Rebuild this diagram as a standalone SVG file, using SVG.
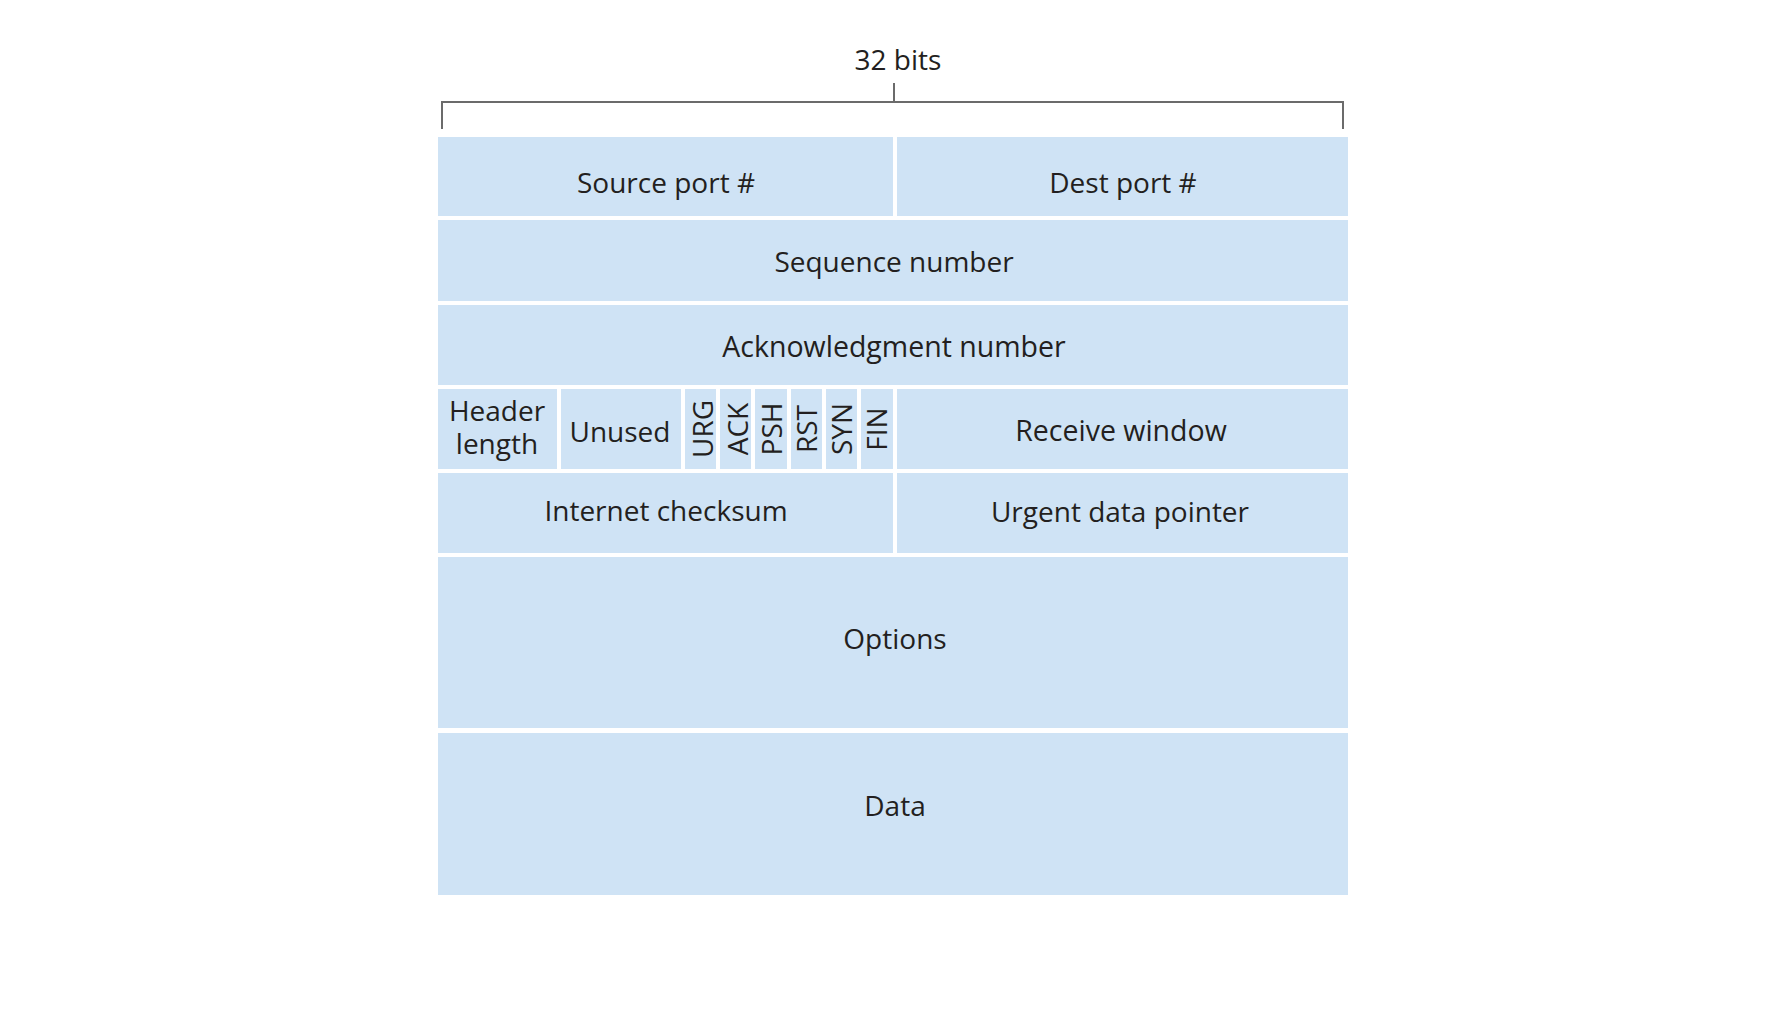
<svg xmlns="http://www.w3.org/2000/svg" width="1788" height="1022" viewBox="0 0 1788 1022">
<style>
.cell{fill:#cfe3f5}
.t{font-family:"Open Sans","Noto Sans","DejaVu Sans",sans-serif;font-size:28px;fill:#231f20;text-anchor:middle}
.br{fill:none;stroke:#6b6b6b;stroke-width:2}
</style>
<rect width="1788" height="1022" fill="#ffffff"/>
<g id="connectors">
<path class="br" d="M442,129 V102 H1343 V129"/>
<path class="br" d="M894,102 V83"/>
</g>
<g id="label-32bits"><text class="t" x="898" y="70">32 bits</text></g>
<g id="source-port"><rect class="cell" x="438" y="137" width="455" height="79"/><text class="t" x="666" y="193">Source port #</text></g>
<g id="dest-port"><rect class="cell" x="897" y="137" width="451" height="79"/><text class="t" x="1123" y="193">Dest port #</text></g>
<g id="sequence-number"><rect class="cell" x="438" y="220" width="910" height="81"/><text class="t" x="894" y="272">Sequence number</text></g>
<g id="ack-number"><rect class="cell" x="438" y="305" width="910" height="80"/><text class="t" x="894" y="357" style="font-size:28.5px">Acknowledgment number</text></g>
<g id="header-length"><rect class="cell" x="438" y="389" width="119" height="80"/><text class="t"><tspan x="497" y="421">Header</tspan><tspan x="497" y="454">length</tspan></text></g>
<g id="unused"><rect class="cell" x="561" y="389" width="120" height="80"/><text class="t" x="620" y="442">Unused</text></g>
<g id="flag-urg"><rect class="cell" x="685" y="389" width="31" height="80"/><text class="t" transform="translate(713,429) rotate(-90)">URG</text></g>
<g id="flag-ack"><rect class="cell" x="720" y="389" width="31" height="80"/><text class="t" transform="translate(748,429) rotate(-90)">ACK</text></g>
<g id="flag-psh"><rect class="cell" x="755" y="389" width="32" height="80"/><text class="t" transform="translate(782,429) rotate(-90)">PSH</text></g>
<g id="flag-rst"><rect class="cell" x="791" y="389" width="31" height="80"/><text class="t" transform="translate(817,429) rotate(-90)">RST</text></g>
<g id="flag-syn"><rect class="cell" x="826" y="389" width="31" height="80"/><text class="t" transform="translate(852,429) rotate(-90)">SYN</text></g>
<g id="flag-fin"><rect class="cell" x="861" y="389" width="32" height="80"/><text class="t" transform="translate(887,429) rotate(-90)">FIN</text></g>
<g id="receive-window"><rect class="cell" x="897" y="389" width="451" height="80"/><text class="t" x="1121" y="441" style="font-size:28.5px">Receive window</text></g>
<g id="internet-checksum"><rect class="cell" x="438" y="473" width="455" height="80"/><text class="t" x="666" y="521">Internet checksum</text></g>
<g id="urgent-pointer"><rect class="cell" x="897" y="473" width="451" height="80"/><text class="t" x="1120" y="522">Urgent data pointer</text></g>
<g id="options"><rect class="cell" x="438" y="557" width="910" height="171"/><text class="t" x="895" y="649">Options</text></g>
<g id="data"><rect class="cell" x="438" y="733" width="910" height="162"/><text class="t" x="895" y="816">Data</text></g>
</svg>
